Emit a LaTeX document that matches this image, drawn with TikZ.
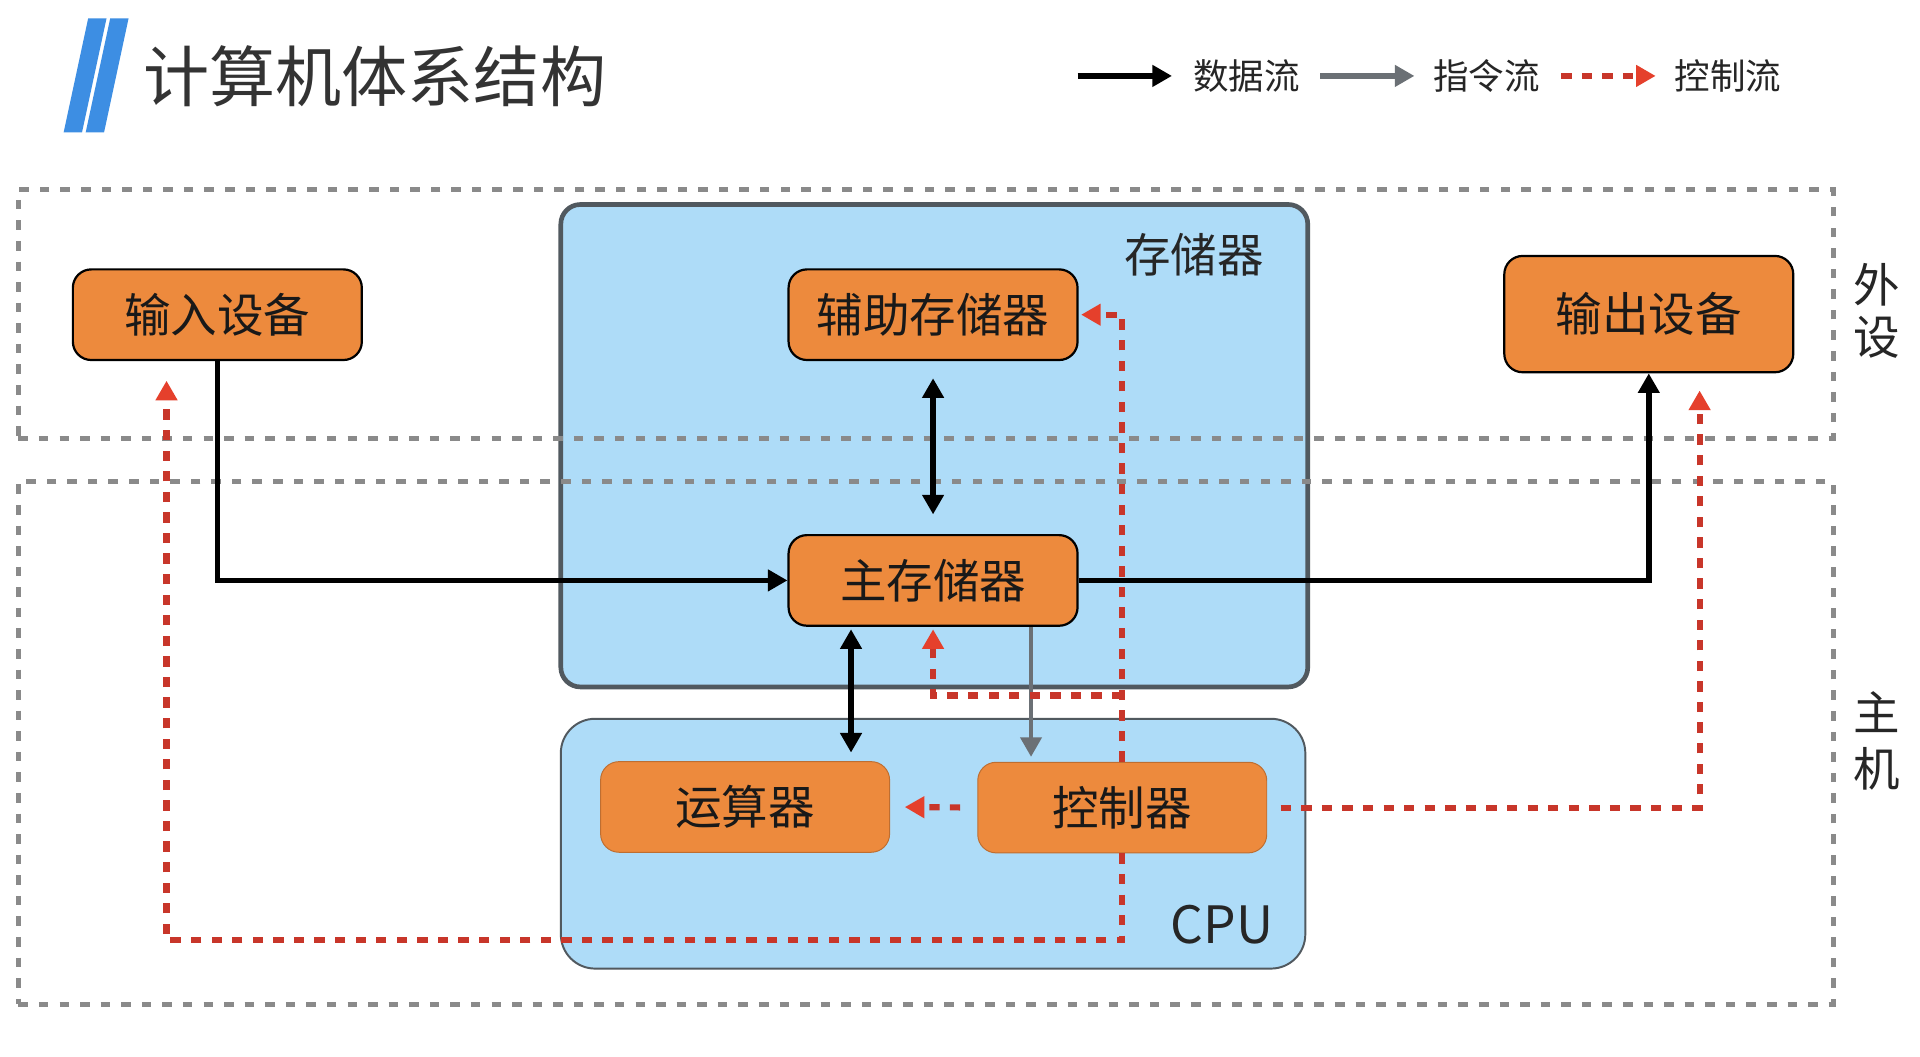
\documentclass[tikz,border=0pt]{standalone}
\usepackage{fontspec}
\setmainfont{Noto Sans CJK SC}
\usetikzlibrary{arrows.meta,calc}
\definecolor{orangebox}{HTML}{ED8A3D}
\definecolor{lightblue}{HTML}{AEDCF8}
\definecolor{boxgray}{HTML}{51595F}
\definecolor{dashgray}{HTML}{8A8A8A}
\definecolor{ctrlred}{HTML}{C8362A}
\definecolor{arrowred}{HTML}{E5402C}
\definecolor{instrgray}{HTML}{6B7075}
\definecolor{slashblue}{HTML}{3D8EE3}
\begin{document}
\begin{tikzpicture}[x=0.5pt,y=-0.5pt,
  unit/.style={draw=black, line width=0.9pt, fill=orangebox, rounded corners=7.5pt,
    minimum width=118pt, minimum height=37pt, font=\fontsize{19}{19}\selectfont,
    text=black!90, inner sep=0pt},
  unitsoft/.style={unit, draw=orangebox!80!black, line width=0.4pt},
  region/.style={draw=dashgray, line width=2pt, dash pattern=on 3.9pt off 4.5pt, inner sep=0pt},
  data/.style={draw=black, line width=2.3pt, -{Triangle[length=8pt,width=8.5pt]}},
  databoth/.style={draw=black, line width=2.3pt, {Triangle[length=8pt,width=8.5pt]}-{Triangle[length=8pt,width=8.5pt]}},
  instr/.style={draw=instrgray, line width=1.9pt, -{Triangle[length=8pt,width=8.5pt]}},
  ctrl/.style={draw=ctrlred, line width=2.5pt, dash pattern=on 4.2pt off 4.2pt,
    -{Triangle[length=8pt,width=8.5pt,color=arrowred]}},
  lbl/.style={inner sep=0pt, text=black!85}
]
\fill[white] (0,0) rectangle (1568,863);
\useasboundingbox (0,0) rectangle (1568,863);

% title
\fill[slashblue] (52,108) -- (67,108) -- (87,15) -- (72,15) -- cycle;
\fill[slashblue] (70,108) -- (85,108) -- (105,15) -- (90,15) -- cycle;
\node[lbl, font=\fontsize{27}{27}\selectfont, text=black!80] (title) at (306,62) {计算机体系结构};

% legend
\node[lbl, font=\fontsize{14.5}{14.5}\selectfont] (lg1) at (1018,62) {数据流};
\node[lbl, font=\fontsize{14.5}{14.5}\selectfont] (lg2) at (1214,62) {指令流};
\node[lbl, font=\fontsize{14.5}{14.5}\selectfont] (lg3) at (1411,62) {控制流};
\coordinate (la1) at (880,62);
\coordinate (la2) at (1078,62);
\coordinate (la3) at (1275,62);
\draw[data, shorten >=8.5pt] (la1) -- (lg1.west);
\draw[instr, line width=2.3pt, shorten >=7.5pt] (la2) -- (lg2.west);
\draw[ctrl, shorten >=7.5pt] (la3) -- (lg3.west);

% big containers
\node[draw=boxgray, line width=1.9pt, fill=lightblue, rounded corners=8pt,
  minimum width=305pt, minimum height=197pt, inner sep=0pt] (mem) at (763,364) {};
\node[draw=boxgray, line width=0.8pt, fill=lightblue, rounded corners=14pt,
  minimum width=304pt, minimum height=102pt, inner sep=0pt] (cpu) at (762,689) {};
\node[lbl, font=\fontsize{19}{19}\selectfont] (memlbl) at (975,208) {存储器};
\node[lbl, font=\fontsize{21}{21}\selectfont] (cpulbl) at (998,755) {CPU};

% dashed regions
\node[region, minimum width=741pt, minimum height=101.5pt] (periph) at (756,256.5) {};
\node[region, minimum width=741pt, minimum height=213.5pt] (host) at (756,606.5) {};
\node[lbl, align=center, font=\fontsize{19}{21}\selectfont] (periphlbl) at (1533,254) {外\\设};
\node[lbl, align=center, font=\fontsize{19}{23}\selectfont] (hostlbl) at (1533,605) {主\\机};

% units
\node[unit] (in) at (177.5,257) {输入设备};
\node[unit] (aux) at (762,257) {辅助存储器};
\node[unit] (main) at (762,474) {主存储器};
\node[unit, minimum height=47.5pt] (out) at (1346.5,256.5) {输出设备};
\node[unitsoft] (alu) at (608.5,659) {运算器};
\node[unitsoft] (ctl) at (916.5,659.5) {控制器};

% data flow
\draw[data] (in.south) |- (main.west);
\draw[data] (main.east) -| (out.south);
\draw[databoth, shorten <=7pt, shorten >=8pt] (aux.south) -- (main.north);
\coordinate (m1) at ($(main.south)+(-67,0)$);
\draw[databoth, shorten <=1pt, shorten >=3.5pt] (m1) -- (m1 |- alu.north);

% instruction flow
\coordinate (m2) at ($(main.south)+(80,0)$);
\draw[instr, shorten >=2pt] (m2) -- (m2 |- ctl.north);

% control flow
\draw[ctrl, shorten <=7pt, shorten >=6pt] (ctl.west) -- (alu.east);
\coordinate (r1) at ($(out.south)+(41.5,0)$);
\draw[ctrl, shorten <=5.5pt, shorten >=7pt] (ctl.east) -| (r1);
\draw[ctrl, shorten >=1pt] (ctl.north) |- (aux.east);
\coordinate (yb) at (0,568);
\draw[ctrl, shorten >=1pt] (ctl.north |- yb) -| (main.south);
\coordinate (yl) at (0,768);
\coordinate (r2) at ($(in.south)+(-41.5,0)$);
\draw[ctrl, shorten >=8pt] (ctl.south) |- (yl -| r2) -- (r2);
\end{tikzpicture}
\end{document}
